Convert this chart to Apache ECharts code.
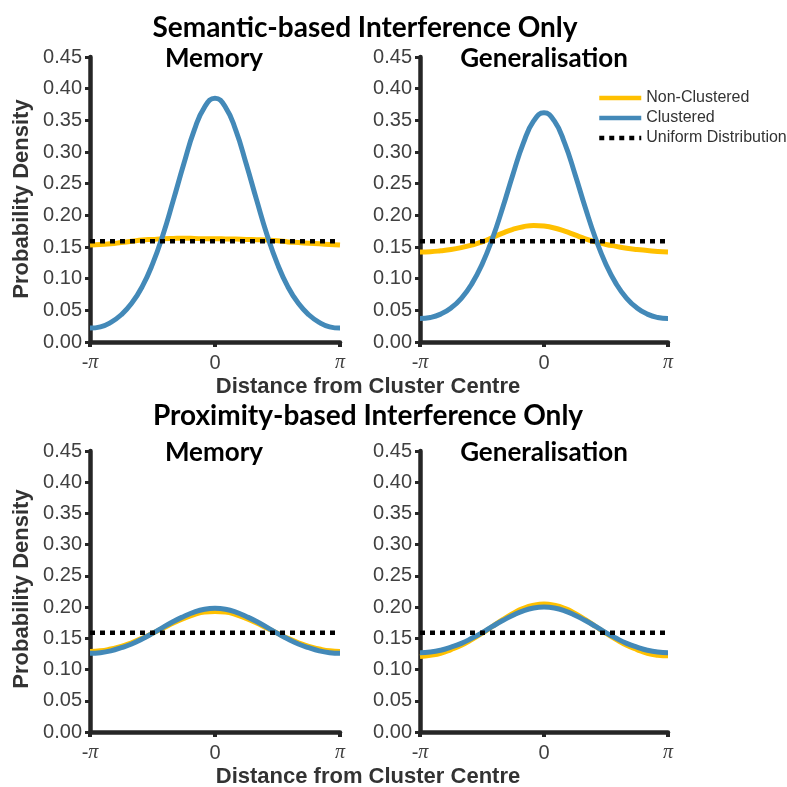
<!DOCTYPE html>
<html>
<head>
<meta charset="utf-8">
<script src="https://cdn.jsdelivr.net/npm/echarts@6/dist/echarts.min.js"></script>
<style>
html,body{margin:0;padding:0;background:#fff;}
#chart{width:787px;height:787px;}
</style>
</head>
<body>
<div id="chart"></div>
<script>
// x positions (radians, distance from cluster centre)
const xVals = [-3.1416, -2.8798, -2.6180, -2.3562, -2.0944, -1.8326, -1.5708, -1.3090, -1.0472, -0.7854, -0.5236, -0.2618, 0,
               0.2618, 0.5236, 0.7854, 1.0472, 1.3090, 1.5708, 1.8326, 2.0944, 2.3562, 2.6180, 2.8798, 3.1416];

// Semantic-based interference only — Memory
const semMemNonClustered = [0.153, 0.154, 0.155, 0.157, 0.159, 0.161, 0.162, 0.163, 0.1635, 0.1638, 0.1635, 0.163, 0.163,
                            0.1628, 0.1625, 0.162, 0.1615, 0.161, 0.160, 0.158, 0.157, 0.156, 0.155, 0.154, 0.153];
const semMemClustered = [0.022, 0.024, 0.031, 0.043, 0.061, 0.087, 0.123, 0.169, 0.224, 0.281, 0.334, 0.371, 0.385,
                         0.371, 0.334, 0.281, 0.224, 0.169, 0.123, 0.087, 0.061, 0.043, 0.031, 0.024, 0.022];
// Semantic-based interference only — Generalisation
const semGenNonClustered = [0.142, 0.1425, 0.144, 0.146, 0.149, 0.153, 0.158, 0.165, 0.172, 0.178, 0.182, 0.184, 0.183,
                            0.180, 0.175, 0.169, 0.163, 0.158, 0.154, 0.151, 0.148, 0.146, 0.1445, 0.143, 0.142];
const semGenClustered = [0.037, 0.0387, 0.044, 0.0537, 0.069, 0.0914, 0.1225, 0.163, 0.212, 0.265, 0.314, 0.349, 0.362,
                         0.349, 0.314, 0.265, 0.212, 0.163, 0.1225, 0.0914, 0.069, 0.0537, 0.044, 0.0387, 0.037];
// Proximity-based interference only — Memory
const proxMemNonClustered = [0.129, 0.130, 0.133, 0.137, 0.143, 0.150, 0.158, 0.166, 0.1745, 0.182, 0.188, 0.192, 0.193,
                             0.192, 0.188, 0.182, 0.1745, 0.166, 0.158, 0.150, 0.143, 0.137, 0.133, 0.130, 0.129];
const proxMemClustered = [0.126, 0.127, 0.130, 0.135, 0.141, 0.149, 0.158, 0.1675, 0.177, 0.185, 0.192, 0.1965, 0.198,
                          0.1965, 0.192, 0.185, 0.177, 0.1675, 0.158, 0.149, 0.141, 0.135, 0.130, 0.127, 0.126];
// Proximity-based interference only — Generalisation
const proxGenNonClustered = [0.121, 0.123, 0.126, 0.132, 0.139, 0.148, 0.158, 0.169, 0.180, 0.190, 0.198, 0.203, 0.205,
                             0.203, 0.198, 0.190, 0.180, 0.169, 0.158, 0.148, 0.139, 0.132, 0.126, 0.123, 0.122];
const proxGenClustered = [0.127, 0.128, 0.131, 0.136, 0.142, 0.150, 0.159, 0.169, 0.1785, 0.187, 0.194, 0.1985, 0.200,
                          0.1985, 0.194, 0.187, 0.1785, 0.169, 0.159, 0.150, 0.142, 0.136, 0.131, 0.128, 0.127];
// Uniform distribution reference
const uniformX = [-3.1416, 3.1416];
const uniformY = [0.159, 0.159];

const seriesNames = ['Non-Clustered', 'Clustered', 'Uniform Distribution'];
const yTicks = ['0.00','0.05','0.10','0.15','0.20','0.25','0.30','0.35','0.40','0.45'];

const panels = [
  {nc: semMemNonClustered, c: semMemClustered},
  {nc: semGenNonClustered, c: semGenClustered},
  {nc: proxMemNonClustered, c: proxMemClustered},
  {nc: proxGenNonClustered, c: proxGenClustered}
];

const grids = [
  {left: 90, top: 57, width: 250, height: 285},
  {left: 420, top: 57, width: 248, height: 285},
  {left: 90, top: 451, width: 250, height: 281},
  {left: 420, top: 451, width: 248, height: 281}
];

const axisColor = '#262626';
const labelColor = '#404040';
const YELLOW = '#FFC000';
const BLUE = '#4389B8';
const LW = 5;

const zip = (xs, ys) => xs.map((x, i) => [x, ys[i]]);

const xAxes = [], yAxes = [], series = [];
grids.forEach((g, i) => {
  xAxes.push({
    gridIndex: i, type: 'value', min: -Math.PI, max: Math.PI, interval: Math.PI,
    axisLine: {show: true, onZero: false, lineStyle: {color: axisColor, width: 4.5}},
    axisTick: {show: true, length: 5, lineStyle: {color: axisColor, width: 4}},
    splitLine: {show: false},
    axisLabel: {
      margin: 11, color: labelColor,
      formatter: v => Math.abs(v) < 1e-6 ? '{n|0}' : (v < 0 ? '{n|-}{p|π}' : '{p|π}'),
      rich: {
        n: {fontFamily: 'Liberation Sans', fontSize: 20, color: labelColor},
        p: {fontFamily: 'Liberation Serif', fontStyle: 'italic', fontSize: 20, color: labelColor}
      }
    }
  });
  yAxes.push({
    gridIndex: i, type: 'value', min: 0, max: 0.45, interval: 0.05,
    axisLine: {show: true, onZero: false, lineStyle: {color: axisColor, width: 4.5}},
    axisTick: {show: true, length: 5, lineStyle: {color: axisColor, width: 3}},
    splitLine: {show: false},
    axisLabel: {
      margin: 8, color: labelColor, fontFamily: 'Liberation Sans', fontSize: 20,
      formatter: v => yTicks[Math.round(v / 0.05)]
    }
  });
  const p = panels[i];
  series.push({
    name: seriesNames[0], type: 'line', xAxisIndex: i, yAxisIndex: i,
    data: zip(xVals, p.nc), smooth: 0.5, symbol: 'none', showSymbol: false,
    lineStyle: {color: YELLOW, width: LW}, itemStyle: {color: YELLOW}, z: 2
  });
  series.push({
    name: seriesNames[1], type: 'line', xAxisIndex: i, yAxisIndex: i,
    data: zip(xVals, p.c), smooth: 0.5, symbol: 'none', showSymbol: false,
    lineStyle: {color: BLUE, width: LW}, itemStyle: {color: BLUE}, z: 3
  });
  series.push({
    name: seriesNames[2], type: 'line', xAxisIndex: i, yAxisIndex: i,
    data: zip(uniformX, uniformY), symbol: 'none', showSymbol: false,
    lineStyle: {color: '#000', width: 4.5, type: [5, 5]}, itemStyle: {color: '#000'}, z: 4
  });
});

const titleFont = 'Lato';
const txt = (text, x, y, size, color, family, extra) => Object.assign({
  type: 'text', x: x, y: y,
  style: {text: text, fontSize: size, fontWeight: 'bold', fontFamily: family, fill: color,
          textAlign: 'center', textVerticalAlign: 'middle'}
}, extra || {});

const graphics = [
  txt('Semantic-based Interference Only', 365, 28, 28, '#000', titleFont),
  txt('Memory', 214, 59, 26, '#000', titleFont),
  txt('Generalisation', 544, 59, 26, '#000', titleFont),
  txt('Distance from Cluster Centre', 368, 387, 22, '#333', 'Liberation Sans'),
  txt('Proximity-based Interference Only', 368, 416, 28, '#000', titleFont),
  txt('Memory', 214, 453, 26, '#000', titleFont),
  txt('Generalisation', 544, 453, 26, '#000', titleFont),
  txt('Distance from Cluster Centre', 368, 777, 22, '#333', 'Liberation Sans'),
  txt('Probability Density', 22, 199, 22, '#333', 'Liberation Sans', {rotation: Math.PI / 2}),
  txt('Probability Density', 22, 589, 22, '#333', 'Liberation Sans', {rotation: Math.PI / 2})
];

const chart = echarts.init(document.getElementById('chart'), null, {renderer: 'canvas'});
chart.setOption({
  animation: false,
  backgroundColor: '#fff',
  grid: grids,
  xAxis: xAxes,
  yAxis: yAxes,
  series: series,
  legend: {
    data: seriesNames, orient: 'vertical', left: 592, top: 85,
    itemWidth: 42, itemHeight: 14, itemGap: 4,
    itemStyle: {opacity: 0},
    lineStyle: {width: 4.5},
    textStyle: {fontFamily: 'Liberation Sans', fontSize: 16, color: '#333', lineHeight: 16}
  },
  graphic: graphics
});
</script>
</body>
</html>
